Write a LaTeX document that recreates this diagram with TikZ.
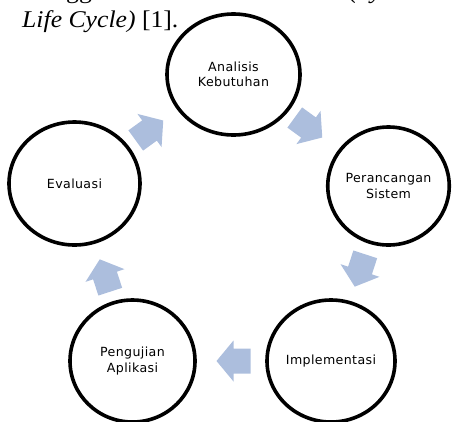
\documentclass[tikz,border=0pt]{standalone}
\usepackage{fontspec}
\setmainfont{Liberation Serif}
\newfontfamily\lblfont[LetterSpace=3]{DejaVu Sans}
\usetikzlibrary{shapes.geometric}
\definecolor{arrowblue}{RGB}{172,190,221}
\tikzset{
  x=1pt, y=-1pt,
  phase/.style={draw=black, line width=3.6pt, ellipse, inner sep=0pt,
    align=center, font=\lblfont\fontsize{12.6}{15.5}\selectfont},
  cyclearrow/.style={fill=arrowblue, draw=none},
  bodytext/.style={inner sep=0pt, font=\fontsize{24}{28}\selectfont}
}
\newcommand{\cyclearrowshape}[3]{%
  \fill[cyclearrow, shift={(#1,#2)}, rotate=#3]
    (-17,-12.5) -- (0,-12.5) -- (0,-20.5) -- (17,0) -- (0,20.5) -- (0,12.5) -- (-17,12.5) -- cycle;}
\begin{document}
\begin{tikzpicture}
\useasboundingbox (0,0) rectangle (452,421);
% partial text lines (cut off at the top edge, as in the reference)
\node[bodytext, anchor=base west, xscale=1.07] (l0a) at (66,-2) {gg};
\node[bodytext, anchor=base west, xscale=1.07] (l0b) at (349,-2) {\textit{(Sy}};
\node[bodytext, anchor=base west, xscale=1.07] (l1) at (22,27) {\textit{Life Cycle)} [1].};
% phases
\node[phase, minimum width=133pt, minimum height=121pt] (ana) at (233.5,74.5) {Analisis\\Kebutuhan};
\node[phase, minimum width=121pt, minimum height=118pt] (per) at (388.5,186) {Perancangan\\Sistem};
\node[phase, minimum width=128pt, minimum height=122pt] (imp) at (331,361) {Implementasi};
\node[phase, minimum width=125pt, minimum height=122pt] (pen) at (132.5,361) {Pengujian\\Aplikasi};
\node[phase, minimum width=131pt, minimum height=123pt] (eva) at (74.5,183.5) {Evaluasi};
% arrows
\cyclearrowshape{308.5}{127.5}{-36}
\cyclearrowshape{360}{270.5}{-108}
\cyclearrowshape{233.5}{361}{180}
\cyclearrowshape{105}{275.5}{108}
\cyclearrowshape{149.5}{130.5}{36}
\end{tikzpicture}
\end{document}
